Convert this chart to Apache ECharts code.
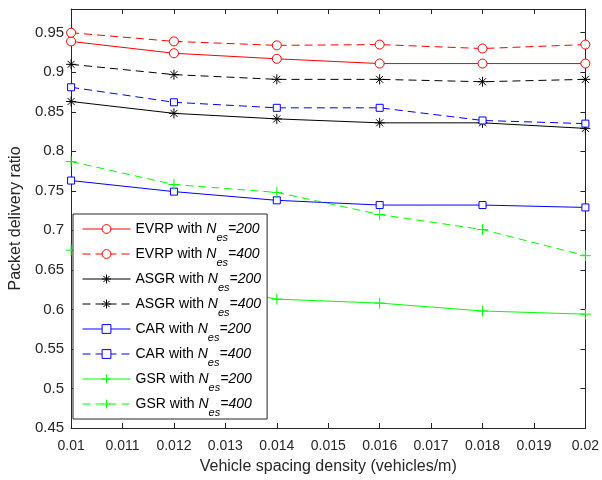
<!DOCTYPE html>
<html>
<head>
<meta charset="utf-8">
<script src="https://cdn.jsdelivr.net/npm/echarts@6/dist/echarts.min.js"></script>
<style>
html, body { margin: 0; padding: 0; background: #fff; }
#chart { width: 602px; height: 480px; }
</style>
</head>
<body>
<div id="chart"></div>
<script>
var xs = [0.01, 0.012, 0.014, 0.016, 0.018, 0.02];

var evrp200 = [0.939, 0.924, 0.917, 0.911, 0.911, 0.911];
var evrp400 = [0.950, 0.939, 0.934, 0.935, 0.930, 0.935];
var asgr200 = [0.863, 0.848, 0.841, 0.836, 0.836, 0.829];
var asgr400 = [0.910, 0.897, 0.891, 0.891, 0.888, 0.891];
var car200 = [0.763, 0.749, 0.738, 0.732, 0.732, 0.729];
var car400 = [0.881, 0.862, 0.855, 0.855, 0.839, 0.835];
var gsr200 = [0.675, 0.636, 0.613, 0.608, 0.598, 0.594];
var gsr400 = [0.787, 0.758, 0.748, 0.720, 0.701, 0.668];

var names = ['EVRP', 'EVRP', 'ASGR', 'ASGR', 'CAR', 'CAR', 'GSR', 'GSR'];
var nes = ['200', '400', '200', '400', '200', '400', '200', '400'];

var FONT = "'Liberation Sans', Arial, Helvetica, sans-serif";
var AXIS = '#262626';

// hollow marker shapes drawn with a thin stroke (legend icons too)
var CIRCLE = 'path://M5,0A5,5 0 1,1 5,10A5,5 0 1,1 5,0Z';
var SQUARE = 'path://M0,0L10,0L10,10L0,10Z';
var ASTER = 'path://M5,0L5,10M0,5L10,5M1.5,1.5L8.5,8.5M8.5,1.5L1.5,8.5';
var PLUS = 'path://M5,0L5,10M0,5L10,5';

function pairs(vals) {
    return xs.map(function (x, i) {
        return [x, vals[i]];
    });
}

function makeSeries(idx, vals, color, dashed, symbol, size) {
    return {
        name: names[idx] + ' with N' + idx,
        type: 'line',
        data: pairs(vals),
        symbol: symbol,
        symbolSize: size,
        showAllSymbol: true,
        lineStyle: {
            color: color,
            width: 1,
            type: dashed ? [8, 5] : 'solid'
        },
        itemStyle: {
            color: '#fff',
            borderColor: color,
            borderWidth: 1
        },
        emphasis: { disabled: true },
        animation: false
    };
}

var series = [
    makeSeries(0, evrp200, '#ff0000', false, CIRCLE, 9),
    makeSeries(1, evrp400, '#ff0000', true, CIRCLE, 9),
    makeSeries(2, asgr200, '#000000', false, ASTER, 10),
    makeSeries(3, asgr400, '#000000', true, ASTER, 10),
    makeSeries(4, car200, '#0000ff', false, SQUARE, 7),
    makeSeries(5, car400, '#0000ff', true, SQUARE, 7),
    makeSeries(6, gsr200, '#00ff00', false, PLUS, 11),
    makeSeries(7, gsr400, '#00ff00', true, PLUS, 11)
];

var chart = echarts.init(document.getElementById('chart'));

var option = {
    backgroundColor: '#fff',
    textStyle: { fontFamily: FONT },
    grid: {
        left: 68,
        right: 14,
        top: 9,
        bottom: 52,
        containLabel: false
    },
    legend: {
        orient: 'vertical',
        left: 73,
        top: 214,
        backgroundColor: '#fff',
        borderColor: AXIS,
        borderWidth: 1,
        padding: [8, 6, 1, 9],
        itemGap: 4,
        itemWidth: 48,
        itemHeight: 11,
        itemTextGap: 5,
        selectedMode: false,
        itemStyle: { borderWidth: 1 },
        lineStyle: { width: 1 },
        formatter: function (name) {
            var i = parseInt(name.charAt(name.length - 1), 10);
            return '{n|' + names[i] + ' with }{i|N}{s|es}{i|=' + nes[i] + '}';
        },
        textStyle: {
            fontFamily: FONT,
            fontSize: 14,
            color: '#000',
            rich: {
                n: { fontFamily: FONT, fontSize: 14, color: '#000' },
                i: { fontFamily: FONT, fontSize: 14, fontStyle: 'italic', color: '#000' },
                s: { fontFamily: FONT, fontSize: 11, fontStyle: 'italic', color: '#000', padding: [17, 0, 0, 0] }
            }
        },
        data: series.map(function (s) { return s.name; })
    },
    xAxis: [{
        type: 'value',
        min: 0.01,
        max: 0.02,
        interval: 0.001,
        name: 'Vehicle spacing density (vehicles/m)',
        nameLocation: 'middle',
        nameGap: 31,
        nameTextStyle: { fontSize: 16, color: AXIS, fontFamily: FONT },
        axisLine: { show: true, lineStyle: { color: AXIS, width: 1 } },
        axisTick: { show: true, inside: true, length: 5, lineStyle: { color: AXIS } },
        axisLabel: { fontSize: 14, color: AXIS, margin: 11, fontFamily: FONT },
        splitLine: { show: false }
    }, {
        type: 'value',
        position: 'top',
        min: 0.01,
        max: 0.02,
        interval: 0.001,
        axisLine: { show: true, lineStyle: { color: AXIS, width: 1 } },
        axisTick: { show: true, inside: true, length: 5, lineStyle: { color: AXIS } },
        axisLabel: { show: false },
        splitLine: { show: false }
    }],
    yAxis: [{
        type: 'value',
        min: 0.45,
        max: 0.98,
        interval: 0.05,
        name: 'Packet delivery ratio',
        nameLocation: 'middle',
        nameGap: 5,
        nameTextStyle: { fontSize: 16, color: AXIS, fontFamily: FONT, padding: [0, 0, 7, 0] },
        axisLine: { show: true, lineStyle: { color: AXIS, width: 1 } },
        axisTick: { show: true, inside: true, length: 5, lineStyle: { color: AXIS } },
        axisLabel: {
            fontSize: 15,
            color: AXIS,
            margin: 7,
            fontFamily: FONT,
            showMaxLabel: false
        },
        splitLine: { show: false }
    }, {
        type: 'value',
        position: 'right',
        min: 0.45,
        max: 0.98,
        interval: 0.05,
        axisLine: { show: true, lineStyle: { color: AXIS, width: 1 } },
        axisTick: { show: true, inside: true, length: 5, lineStyle: { color: AXIS } },
        axisLabel: { show: false },
        splitLine: { show: false }
    }],
    series: series,
    animation: false
};

chart.setOption(option);
</script>
</body>
</html>
